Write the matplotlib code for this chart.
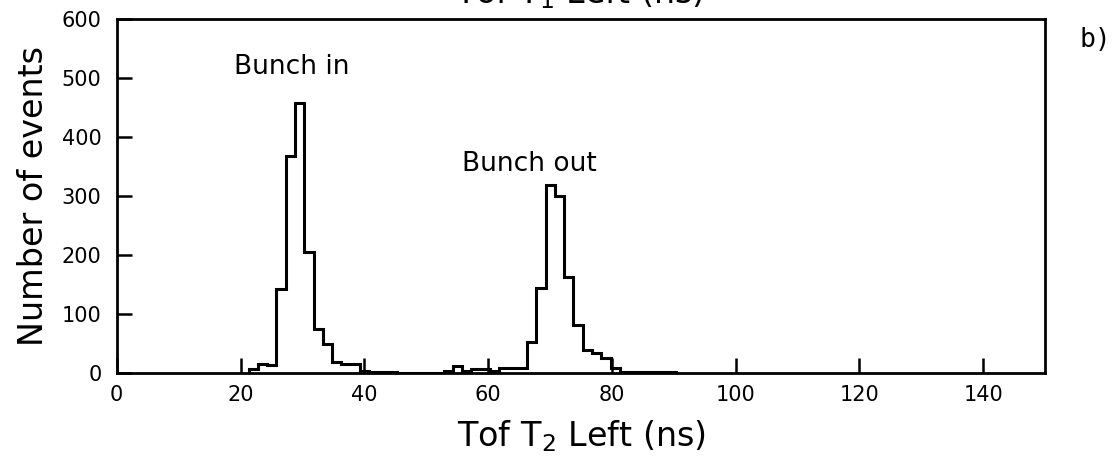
import numpy as np
import matplotlib
matplotlib.use("Agg")
import matplotlib.pyplot as plt

plt.rcParams['font.family'] = ['DejaVu Sans']
plt.rcParams['mathtext.default'] = 'regular'

# bin width 1.5 ns, first edge at 21.3 ns
bin_start = 21.3
bin_width = 1.5
counts = [6, 16, 14, 142, 368, 458, 206, 74, 50, 18, 16, 15,   # bunch in
          3, 2, 2, 2, 0, 0, 0, 0, 0,
          3, 12, 3, 7, 7, 4, 9, 9, 9,
          53, 145, 319, 300, 163, 81, 39, 34, 25, 8,           # bunch out
          1, 1, 1, 1, 1, 1]
edges = bin_start + bin_width * np.arange(len(counts) + 1)

xticks = [0, 20, 40, 60, 80, 100, 120, 140]
yticks = [0, 100, 200, 300, 400, 500, 600]

fig = plt.figure(figsize=(11.14, 4.70), dpi=100)
ax = fig.add_axes([0.1048, 0.2064, 0.8333, 0.7526])

ax.stairs(counts, edges, color='black', lw=2.2)

ax.set_xlim(0, 150)
ax.set_ylim(0, 600)
ax.set_xticks(xticks)
ax.set_yticks(yticks)
ax.tick_params(direction='in', length=11, width=1.8, labelsize=15, pad=9)
ax.tick_params(axis='y', pad=11)
for s in ax.spines.values():
    s.set_linewidth(2)

ax.set_xlabel('Tof T$_2$ Left (ns)', fontsize=24, labelpad=9)
ax.set_ylabel('Number of events', fontsize=24, labelpad=8)

ax.text(19, 508, 'Bunch in', fontsize=19)
ax.text(55.8, 343, 'Bunch out', fontsize=19)
fig.text(0.969, 0.9, 'b)', fontsize=19, family='DejaVu Sans Mono')
fig.text(0.52, 0.992, 'Tof T$_1$ Left (ns)', fontsize=24, ha='center', va='baseline')

fig.savefig('out.png', dpi=100)
